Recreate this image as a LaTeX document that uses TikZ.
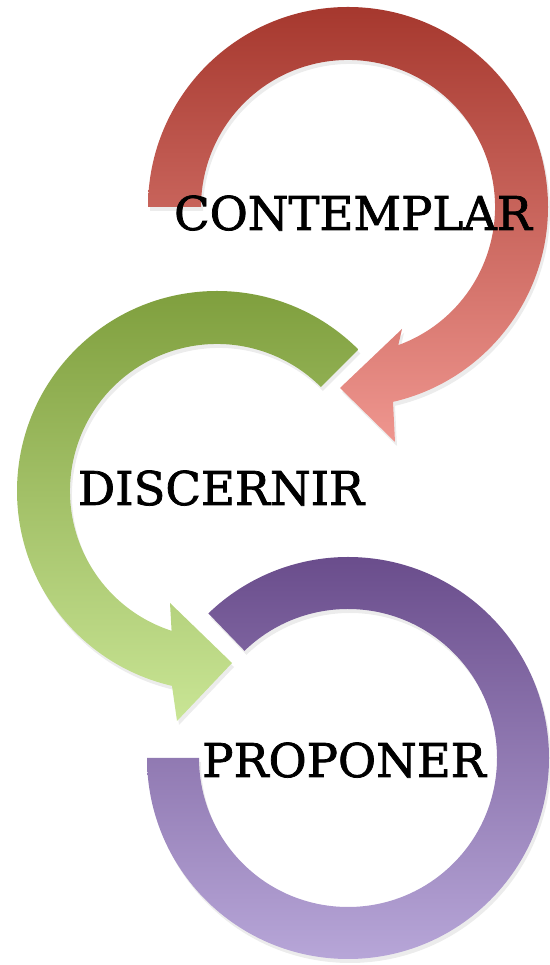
\documentclass[tikz,border=0pt]{standalone}
\usepackage{fontspec}
\newfontfamily\slabfont[FakeBold=1.6]{DejaVu Serif}
\usetikzlibrary{shadows}
\definecolor{redtop}{HTML}{A6382E}
\definecolor{redbot}{HTML}{EF968F}
\definecolor{greentop}{HTML}{7C9C3A}
\definecolor{greenbot}{HTML}{C9E595}
\definecolor{purpletop}{HTML}{6A4D8C}
\definecolor{purplebot}{HTML}{B7A6D8}
\tikzset{
  ring/.style={drop shadow={opacity=0.15, shadow xshift=2pt, shadow yshift=-4pt}},
  steplabel/.style={anchor=base, inner sep=0pt, font=\slabfont\fontsize{46.5}{56}\selectfont}
}

\begin{document}
\begin{tikzpicture}[x=1pt, y=1pt]
			%%%%% START %%%%%
			\useasboundingbox (0, 0) rectangle (549, 965);

			% contemplar ring, clockwise from the left end
			\begin{scope}[shift={(348, 758)}]
			\path[ring, top color=redtop, bottom color=redbot] (180:200) arc[start angle=180, end angle=-77, radius=200]
				-- (47, -235) -- (-8, -181) -- (54, -122)
				-- (-70:147) arc[start angle=-70, end angle=180, radius=147] -- cycle;
			\end{scope}

			% discernir ring, counterclockwise from the upper right cut
			\begin{scope}[shift={(217, 474)}]
			\path[ring, top color=greentop, bottom color=greenbot] (45:200) arc[start angle=45, end angle=257, radius=200]
				-- (-40, -230) -- (15, -172) -- (-47, -112)
				-- (252:147) arc[start angle=252, end angle=45, radius=147] -- cycle;
			\end{scope}

			% proponer ring, no arrow head
			\begin{scope}[shift={(348, 207)}]
			\path[ring, top color=purpletop, bottom color=purplebot] (180:201) arc[start angle=180, end angle=494, radius=201]
				-- (494:149) arc[start angle=494, end angle=180, radius=149] -- cycle;
			\end{scope}

			\node[steplabel] (contemplar) at (353, 735) {CONTEMPLAR};
			\node[steplabel] (discernir) at (221, 460) {DISCERNIR};
			\node[steplabel] (proponer) at (344, 188) {PROPONER};
			%%%%% END %%%%%
\end{tikzpicture}
\end{document}
